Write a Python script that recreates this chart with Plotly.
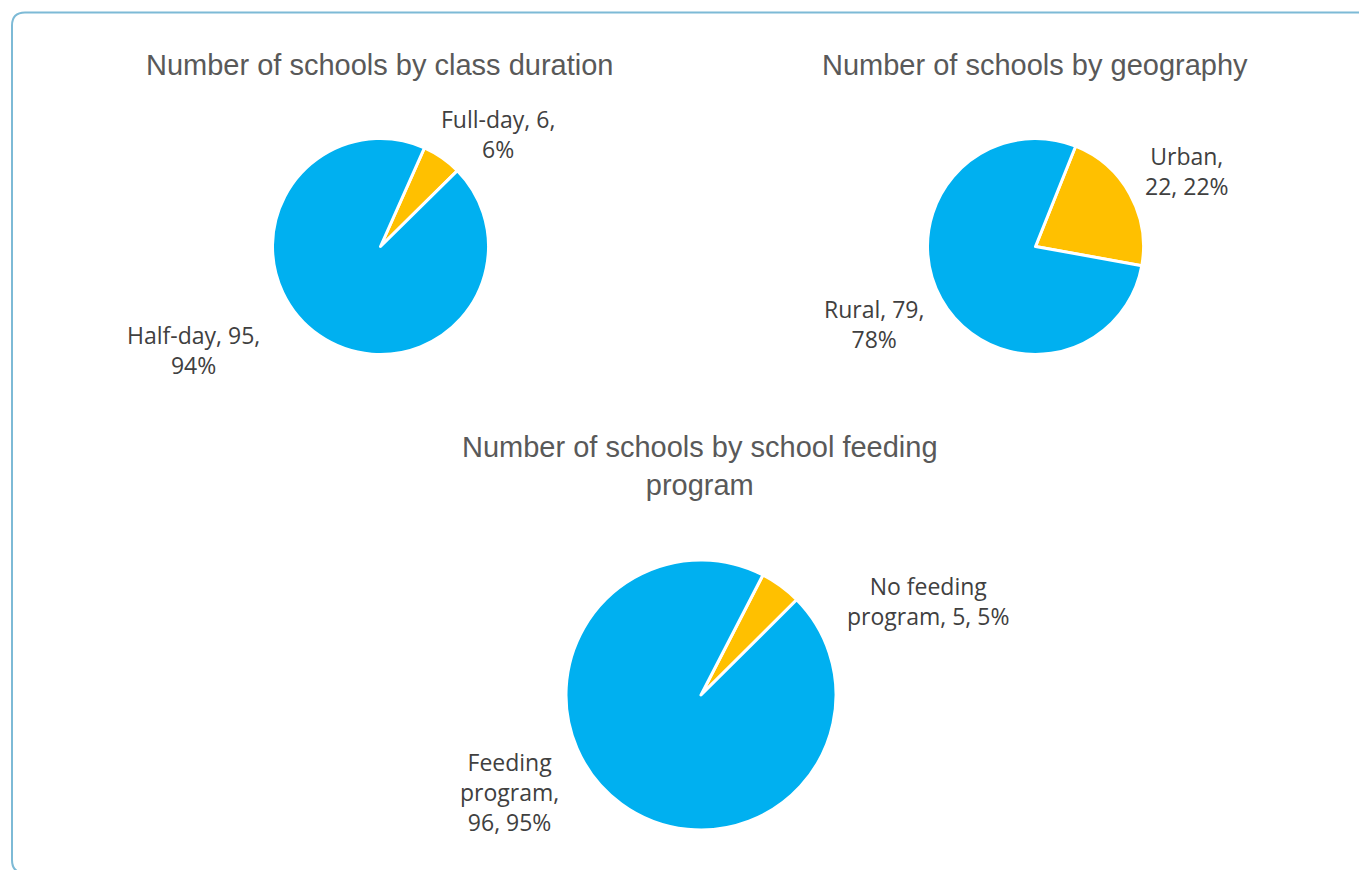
import plotly.graph_objects as go

# Figure size in pixels
W, H = 1359, 870

# Class duration
duration_labels = ["Full-day", "Half-day"]
duration_values = [6, 95]

# Geography
geo_labels = ["Urban", "Rural"]
geo_values = [22, 79]

# School feeding program
feeding_labels = ["No feeding program", "Feeding program"]
feeding_values = [5, 96]

titles = [
    "Number of schools by class duration",
    "Number of schools by geography",
    "Number of schools by school feeding<br>program",
]

BLUE = "#00B0F0"
YELLOW = "#FFC000"
TITLE_COLOR = "#595959"
LABEL_COLOR = "#404040"


def px(x):
    return x / W


def py(y):
    return 1 - y / H


def pie_trace(labels, values, cx, cy, r, rotation):
    return go.Pie(
        labels=labels,
        values=values,
        sort=False,
        direction="clockwise",
        rotation=rotation,
        textinfo="none",
        hoverinfo="label+value+percent",
        marker=dict(colors=[YELLOW, BLUE], line=dict(color="white", width=3)),
        domain=dict(x=[px(cx - r), px(cx + r)], y=[py(cy + r), py(cy - r)]),
        showlegend=False,
    )


fig = go.Figure()
fig.add_trace(pie_trace(duration_labels, duration_values, 380.5, 246.5, 108, 24))
fig.add_trace(pie_trace(geo_labels, geo_values, 1035.5, 246.5, 108, 21.8))
fig.add_trace(pie_trace(feeding_labels, feeding_values, 701, 695, 135, 27.3))

annotations = []

# Chart titles
for text, x, y in [(titles[0], 379, 65), (titles[1], 1035, 65), (titles[2], 700, 466)]:
    annotations.append(dict(
        text=text, x=px(x), y=py(y), xref="paper", yref="paper",
        xanchor="center", yanchor="middle", showarrow=False, align="center",
        font=dict(family="Liberation Sans, Arial, sans-serif", size=29, color=TITLE_COLOR),
    ))

# Data labels: category, count, share
d_tot = sum(duration_values)
g_tot = sum(geo_values)
f_tot = sum(feeding_values)


def pct(v, tot):
    return round(100 * v / tot)


data_labels = [
    (f"{duration_labels[0]}, {duration_values[0]},<br>{pct(duration_values[0], d_tot)}%", 498, 134),
    (f"{duration_labels[1]}, {duration_values[1]},<br>{pct(duration_values[1], d_tot)}%", 193, 350),
    (f"{geo_labels[0]},<br>{geo_values[0]}, {pct(geo_values[0], g_tot)}%", 1187, 171),
    (f"{geo_labels[1]}, {geo_values[1]},<br>{pct(geo_values[1], g_tot)}%", 874, 324),
    ("No feeding<br>program, " + f"{feeding_values[0]}, {pct(feeding_values[0], f_tot)}%", 928, 601),
    ("Feeding<br>program,<br>" + f"{feeding_values[1]}, {pct(feeding_values[1], f_tot)}%", 510, 792),
]
for text, x, y in data_labels:
    annotations.append(dict(
        text=text, x=px(x), y=py(y), xref="paper", yref="paper",
        xanchor="center", yanchor="middle", showarrow=False, align="center",
        font=dict(family="Open Sans, sans-serif", size=23, color=LABEL_COLOR),
    ))

# Rounded chart-area frame
x0, y0, x1, y1, rad = 12, 12.5, 1372, 873, 13
path = (
    f"M {px(x0)},{py(y0 + rad)} "
    f"L {px(x0)},{py(y1 - rad)} "
    f"Q {px(x0)},{py(y1)} {px(x0 + rad)},{py(y1)} "
    f"L {px(x1 - rad)},{py(y1)} "
    f"Q {px(x1)},{py(y1)} {px(x1)},{py(y1 - rad)} "
    f"L {px(x1)},{py(y0 + rad)} "
    f"Q {px(x1)},{py(y0)} {px(x1 - rad)},{py(y0)} "
    f"L {px(x0 + rad)},{py(y0)} "
    f"Q {px(x0)},{py(y0)} {px(x0)},{py(y0 + rad)} Z"
)

fig.update_layout(
    width=W,
    height=H,
    margin=dict(l=0, r=0, t=0, b=0),
    paper_bgcolor="white",
    plot_bgcolor="white",
    showlegend=False,
    annotations=annotations,
    shapes=[dict(type="path", path=path, xref="paper", yref="paper",
                 line=dict(color="#7DBAD6", width=2), layer="below")],
)

fig.write_html("out.html")
